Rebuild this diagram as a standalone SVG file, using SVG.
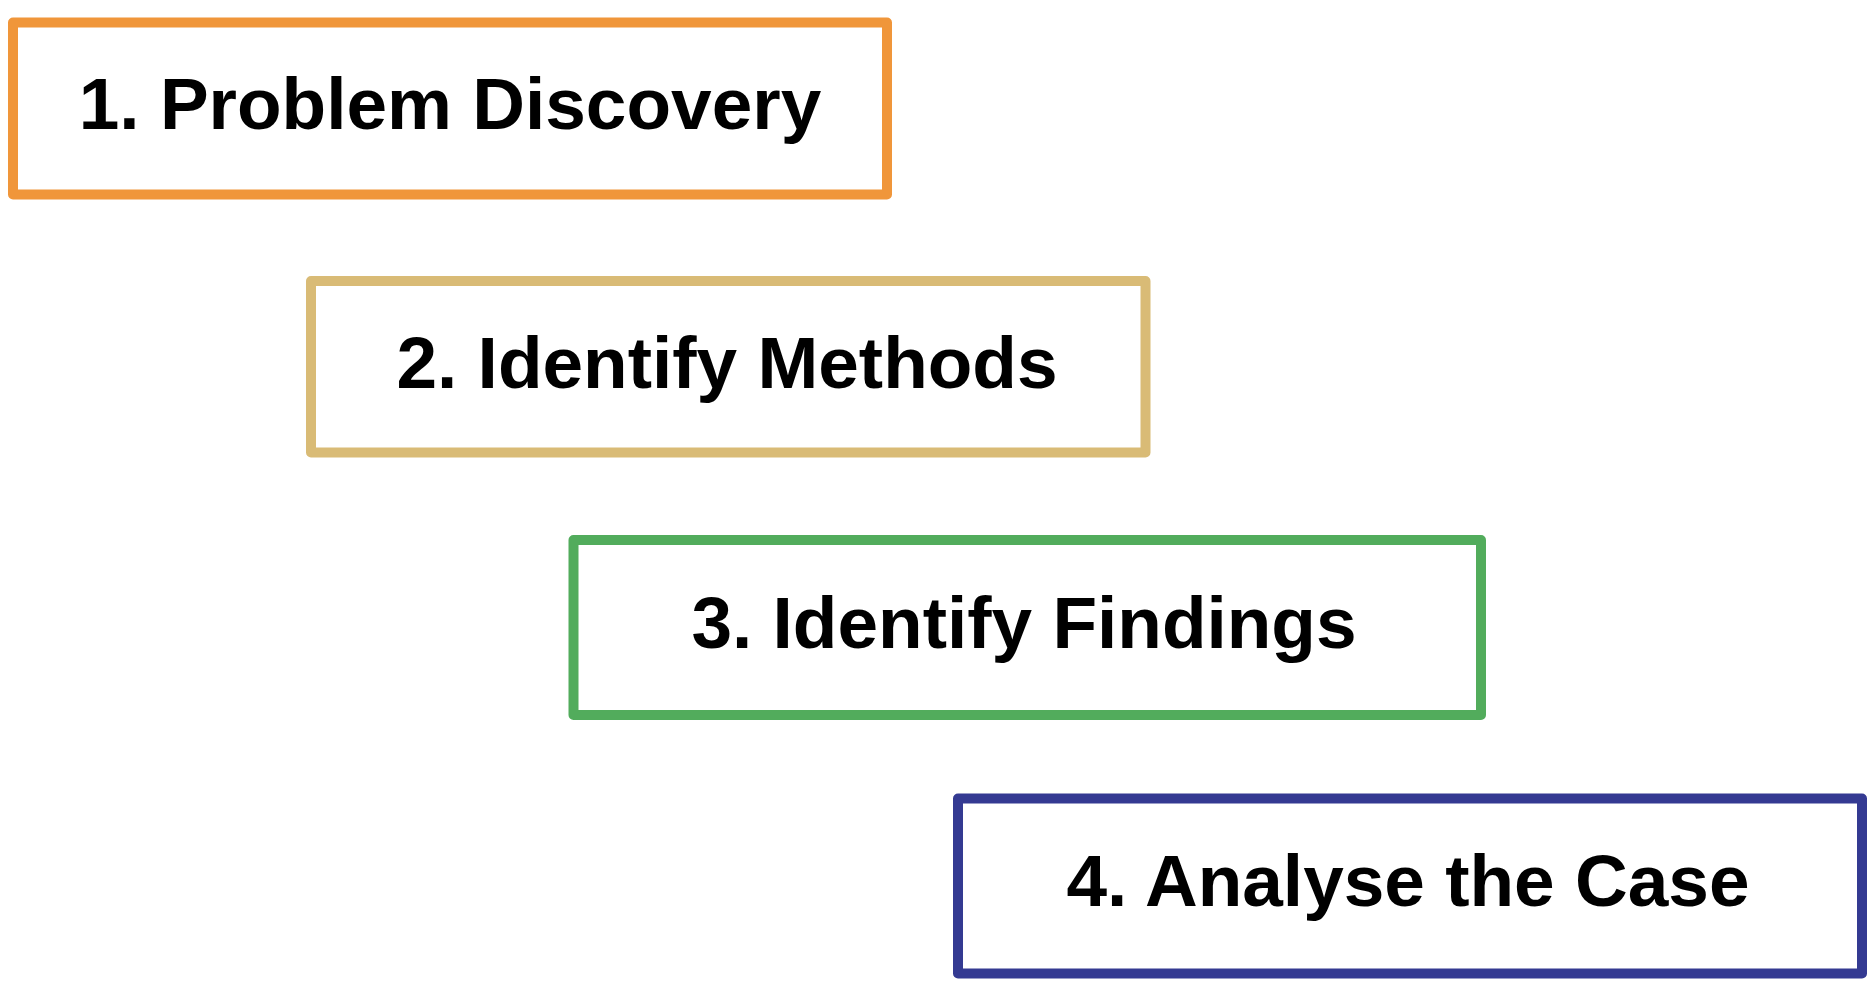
<svg xmlns="http://www.w3.org/2000/svg" width="1876" height="990" viewBox="0 0 1876 990">
<style>
.box{fill:#fff;stroke-width:10;stroke-linejoin:round}
.lbl{font-family:"Liberation Sans",Arial,sans-serif;font-weight:bold;font-size:73px;fill:#000;text-anchor:middle}
</style>
<rect width="1876" height="990" fill="#fff"/>
<g id="connectors"/>
<g id="node1">
<rect class="box" x="13" y="22.5" width="874" height="172" stroke="#F0963A"/>
<text class="lbl" x="450" y="129">1. Problem Discovery</text>
</g>
<g id="node2">
<rect class="box" x="311" y="281" width="834.5" height="171.5" stroke="#D9BB76"/>
<text class="lbl" x="727" y="387.5">2. Identify Methods</text>
</g>
<g id="node3">
<rect class="box" x="573.5" y="540" width="907.5" height="175" stroke="#52AC5C"/>
<text class="lbl" x="1024" y="647.5">3. Identify Findings</text>
</g>
<g id="node4">
<rect class="box" x="958" y="798.5" width="904" height="175" stroke="#343A92"/>
<text class="lbl" x="1408" y="906">4. Analyse the Case</text>
</g>
</svg>
